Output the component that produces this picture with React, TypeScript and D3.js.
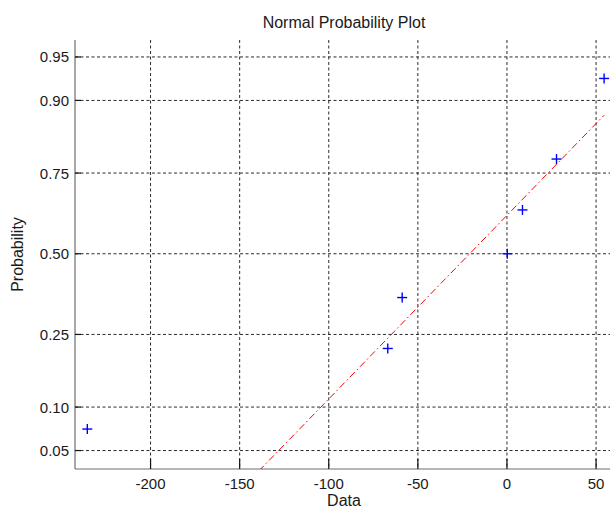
import React from 'react';
import * as d3 from 'd3';

// sample values
const dataValues = [-235.5, -66.9, -58.8, 0.2, 8.7, 27.8, 54.5];
const probTicks = [0.05, 0.1, 0.25, 0.5, 0.75, 0.9, 0.95];
const probLabels = ['0.05', '0.10', '0.25', '0.50', '0.75', '0.90', '0.95'];
const xTicks = [-200, -150, -100, -50, 0, 50];
const xLimits = [-242.4, 59.5];
const probLimits = [0.036, 0.963];

// inverse normal cdf (Acklam)
function norminv(p: number): number {
  const a = [-39.69683028665376, 220.9460984245205, -275.9285104469687, 138.357751867269, -30.66479806614716, 2.506628277459239];
  const b = [-54.47609879822406, 161.5858368580409, -155.6989798598866, 66.80131188771972, -13.28068155288572];
  const c = [-0.007784894002430293, -0.3223964580411365, -2.400758277161838, -2.549732539343734, 4.374664141464968, 2.938163982698783];
  const d = [0.007784695709041462, 0.3224671290700398, 2.445134137142996, 3.754408661907416];
  const pl = 0.02425;
  let q, r;
  if (p < pl) {
    q = Math.sqrt(-2 * Math.log(p));
    return (((((c[0] * q + c[1]) * q + c[2]) * q + c[3]) * q + c[4]) * q + c[5]) / ((((d[0] * q + d[1]) * q + d[2]) * q + d[3]) * q + 1);
  }
  if (p > 1 - pl) {
    q = Math.sqrt(-2 * Math.log(1 - p));
    return -(((((c[0] * q + c[1]) * q + c[2]) * q + c[3]) * q + c[4]) * q + c[5]) / ((((d[0] * q + d[1]) * q + d[2]) * q + d[3]) * q + 1);
  }
  q = p - 0.5;
  r = q * q;
  return ((((((a[0] * r + a[1]) * r + a[2]) * r + a[3]) * r + a[4]) * r + a[5]) * q) / (((((b[0] * r + b[1]) * r + b[2]) * r + b[3]) * r + b[4]) * r + 1);
}

// matlab style percentile on sorted data
function prctile(sorted: number[], pct: number) {
  const n = sorted.length;
  const pos = (pct / 100) * n + 0.5;
  const i = Math.floor(pos);
  if (i < 1) return sorted[0];
  if (i >= n) return sorted[n - 1];
  return sorted[i - 1] + (pos - i) * (sorted[i] - sorted[i - 1]);
}

const W = 610;
const H = 509;
const left = 75;
const right = 613;
const top = 40;
const bottom = 469;

export default function App() {
  const x = d3.scaleLinear().domain(xLimits).range([left, right]);
  const y = d3
    .scaleLinear()
    .domain([norminv(probLimits[0]), norminv(probLimits[1])])
    .range([bottom, top]);

  const sorted = [...dataValues].sort((a, b) => a - b);
  const n = sorted.length;
  const pts = sorted.map((v, i) => ({ v, z: norminv((i + 0.5) / n) }));

  // reference line through the quartiles
  const q1 = prctile(sorted, 25);
  const q3 = prctile(sorted, 75);
  const z1 = norminv(0.25);
  const z3 = norminv(0.75);
  const slope = (z3 - z1) / (q3 - q1);
  const zAt = (v: number) => z1 + slope * (v - q1);
  const lineGen = d3
    .line<number>()
    .x((v) => x(v))
    .y((v) => y(zAt(v)));
  const linePath = lineGen([sorted[0], sorted[n - 1]]);

  const font = '"Liberation Sans", Arial, sans-serif';
  const gridStyle = { stroke: '#2a2a2a', strokeWidth: 1, strokeDasharray: '3,2.5' };

  return (
    <svg width={W} height={H} style={{ position: 'absolute', left: 0, top: 0, background: '#fff' }}>
      <defs>
        <clipPath id="plotClip">
          <rect x={left} y={top} width={right - left} height={bottom - top} />
        </clipPath>
      </defs>

      {/* grid */}
      <g>
        {xTicks.map((t) => (
          <line key={'gx' + t} x1={x(t)} x2={x(t)} y1={top} y2={bottom} style={gridStyle} />
        ))}
        {probTicks.map((p) => (
          <line key={'gy' + p} x1={left} x2={right} y1={y(norminv(p))} y2={y(norminv(p))} style={gridStyle} />
        ))}
      </g>

      {/* axes */}
      <line x1={left} x2={left} y1={top} y2={bottom} stroke="#6e6e6e" strokeWidth={1.2} />
      <line x1={left} x2={right} y1={bottom} y2={bottom} stroke="#6e6e6e" strokeWidth={1.2} />
      {xTicks.map((t) => (
        <g key={'tx' + t}>
          <line x1={x(t)} x2={x(t)} y1={bottom} y2={bottom - 10} stroke="#111" strokeWidth={1.2} />
          <text x={x(t)} y={bottom + 20} textAnchor="middle" fontFamily={font} fontSize={15} fill="#1a1a1a">
            {t}
          </text>
        </g>
      ))}
      {probTicks.map((p, i) => (
        <g key={'ty' + p}>
          <line x1={left} x2={left + 6} y1={y(norminv(p))} y2={y(norminv(p))} stroke="#111" strokeWidth={1.2} />
          <text x={left - 6} y={y(norminv(p)) + 5.5} textAnchor="end" fontFamily={font} fontSize={15} fill="#1a1a1a">
            {probLabels[i]}
          </text>
        </g>
      ))}

      {/* reference line */}
      <g clipPath="url(#plotClip)">
        <path d={linePath || ''} fill="none" stroke="#ff0000" strokeWidth={1} strokeDasharray="7,3,1.5,3" />
      </g>

      {/* data markers */}
      {pts.map((d, i) => (
        <g key={'pt' + i} stroke="#0000ff" strokeWidth={1.4}>
          <line x1={x(d.v) - 5} x2={x(d.v) + 5} y1={y(d.z)} y2={y(d.z)} />
          <line x1={x(d.v)} x2={x(d.v)} y1={y(d.z) - 5} y2={y(d.z) + 5} />
        </g>
      ))}

      {/* labels */}
      <text x={(left + right) / 2} y={28} textAnchor="middle" fontFamily={font} fontSize={16} fill="#1a1a1a">
        Normal Probability Plot
      </text>
      <text x={(left + right) / 2} y={506} textAnchor="middle" fontFamily={font} fontSize={16} fill="#1a1a1a">
        Data
      </text>
      <text transform={`translate(23, ${(top + bottom) / 2}) rotate(-90)`} textAnchor="middle" fontFamily={font} fontSize={16} fill="#1a1a1a">
        Probability
      </text>
    </svg>
  );
}
